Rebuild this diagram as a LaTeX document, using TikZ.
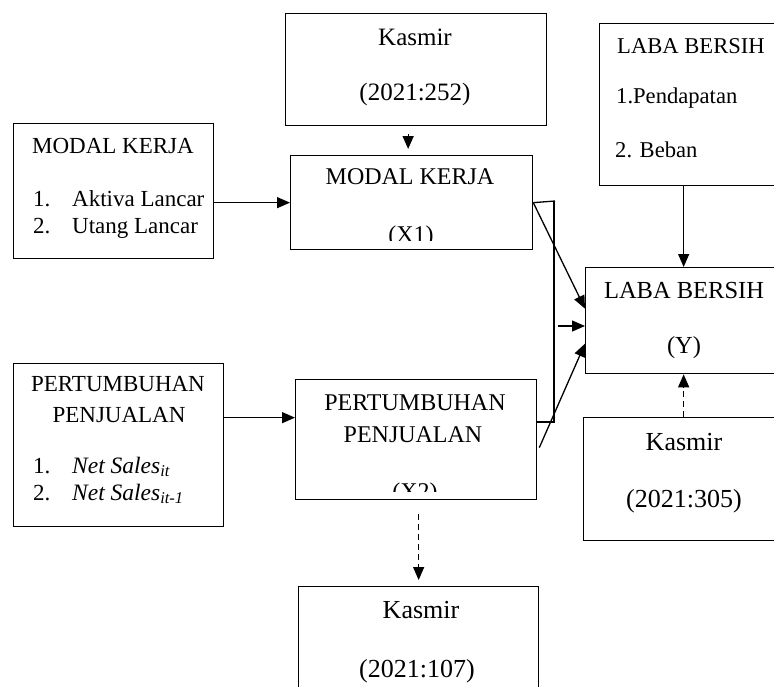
\documentclass[tikz,border=0pt]{standalone}
\usepackage{fontspec}
\setmainfont{Liberation Serif}
\usetikzlibrary{arrows.meta}
\tikzset{
  box/.style={draw, line width=1.3pt, inner sep=0pt, anchor=north west},
  t/.style={inner sep=0pt, anchor=base},
  tl/.style={inner sep=0pt, anchor=base west},
  arr/.style={line width=1.3pt, -{Triangle[length=13pt,width=11pt]}},
  ln/.style={line width=1.3pt},
  dsh/.style={line width=1.3pt, dash pattern=on 6pt off 4pt, -{Triangle[length=13pt,width=11pt]}},
}
\newcommand{\fA}{\fontsize{26}{30}\selectfont}
\newcommand{\fB}{\fontsize{24}{28}\selectfont}
\newcommand{\fC}{\fontsize{22.6}{26}\selectfont}
\newcommand{\fD}{\fontsize{23}{27}\selectfont}
\newcommand{\fE}{\fontsize{23}{27}\selectfont}
\begin{document}
\begin{tikzpicture}[x=1pt,y=-1pt]
\clip (0,0) rectangle (774,686);
\fill[white] (0,0) rectangle (774,686);

% boxes
\node[box, minimum width=261pt, minimum height=112pt] (k1) at (285,13) {};
\node[box, minimum width=242pt, minimum height=94pt] (x1) at (290,155) {};
\node[box, minimum width=200pt, minimum height=135pt] (mk) at (13,123) {};
\node[box, minimum width=201pt, minimum height=162pt] (trb) at (599,23) {};
\node[box, minimum width=196pt, minimum height=106pt] (y) at (585,267) {};
\node[box, minimum width=200pt, minimum height=123pt] (k305) at (583,417) {};
\node[box, minimum width=210pt, minimum height=163pt] (pp) at (13,363) {};
\node[box, minimum width=241pt, minimum height=120pt] (x2) at (295,379) {};
\node[box, minimum width=240pt, minimum height=124pt] (k107) at (298,586) {};

% texts
\node[t, font=\fontsize{25}{29}\selectfont] (k1a) at (415,45) {Kasmir};
\node[t, font=\fontsize{25}{29}\selectfont] (k1b) at (415,100) {(2021:252)};

\node[t, font=\fB] (x1a) at (410,184) {MODAL KERJA};
\begin{scope}
\clip (291,156) rectangle (531,240);
\node[t, font=\fB] (x1b) at (411,242) {(X1)};
\end{scope}

\node[t, font=\fD] (mka) at (113,153) {MODAL KERJA};
\node[tl, font=\fE] (mk1n) at (33,206) {1.};
\node[tl, font=\fE] (mk1) at (72,206) {Aktiva Lancar};
\node[tl, font=\fE] (mk2n) at (33,233) {2.};
\node[tl, font=\fE] (mk2) at (72,233) {Utang Lancar};

\node[tl, font=\fC] (trba) at (617,53) {LABA BERSIH};
\node[tl, font=\fC] (trb1) at (616,103) {1.Pendapatan};
\node[tl, font=\fC] (trb2) at (615,157) {2. Beban};

\node[t, font=\fontsize{24.5}{29}\selectfont] (ya) at (684,298) {LABA BERSIH};
\node[t, font=\fontsize{24.5}{29}\selectfont] (yb) at (684,353) {(Y)};

\node[t, font=\fA] (k305a) at (684,450) {Kasmir};
\node[t, font=\fA] (k305b) at (684,507) {(2021:305)};

\node[t, font=\fD] (ppa1) at (118,391) {PERTUMBUHAN};
\node[t, font=\fD] (ppa2) at (119,422) {PENJUALAN};
\node[tl, font=\fD] (pp1n) at (33,473) {1.};
\node[tl, font=\fontsize{23.5}{27}\selectfont] (pp1) at (72,473) {\textit{Net Sales}\textsubscript{\textit{it}}};
\node[tl, font=\fD] (pp2n) at (33,500) {2.};
\node[tl, font=\fontsize{23.5}{27}\selectfont] (pp2) at (72,500) {\textit{Net Sales}\textsubscript{\textit{it-1}}};

\node[t, font=\fB] (x2a) at (415,410) {PERTUMBUHAN};
\node[t, font=\fB] (x2b) at (413,442) {PENJUALAN};
\begin{scope}
\clip (296,380) rectangle (535,491);
\node[t, font=\fB] (x2c) at (415,499) {(X2)};
\end{scope}

\node[t, font=\fA] (k107a) at (421,618) {Kasmir};
\node[t, font=\fA] (k107b) at (417,677) {(2021:107)};

% connectors
\draw[arr] (mk.east |- x1.west) -- (x1.west);
\draw[arr] ([yshift=27.5pt]pp.east) coordinate (ppo) -- (x2.west |- ppo);
\draw[arr, shorten <=8pt, shorten >=6pt] ([xshift=-8pt]k1.south) -- ([xshift=-8pt]k1.south |- x1.north);
\draw[arr] (trb.south -| y.north) -- (y.north);
\draw[dsh] (k305.north -| y.south) -- (y.south);
\draw[dsh, shorten <=14pt, shorten >=6pt] (x2.south -| k107.north) -- (k107.north);

% bracket and arrows into Y
\coordinate (brt) at (555,201);
\coordinate (brb) at (555,422);
\coordinate (sa) at (558,326);
\draw[ln] (x1.east) -- (brt);
\draw[ln] ([xshift=-1pt]brt) -- ([xshift=-1pt]brb);
\draw[ln] (x2.east |- brb) -- (brb);
\draw[arr] (x1.east) -- ([yshift=12pt]y.west);
\draw[arr] (sa) -- (y.west |- sa);
\draw[arr] ([xshift=2pt,yshift=-8pt]x2.east) -- ([yshift=-23pt]y.west);
\end{tikzpicture}
\end{document}
